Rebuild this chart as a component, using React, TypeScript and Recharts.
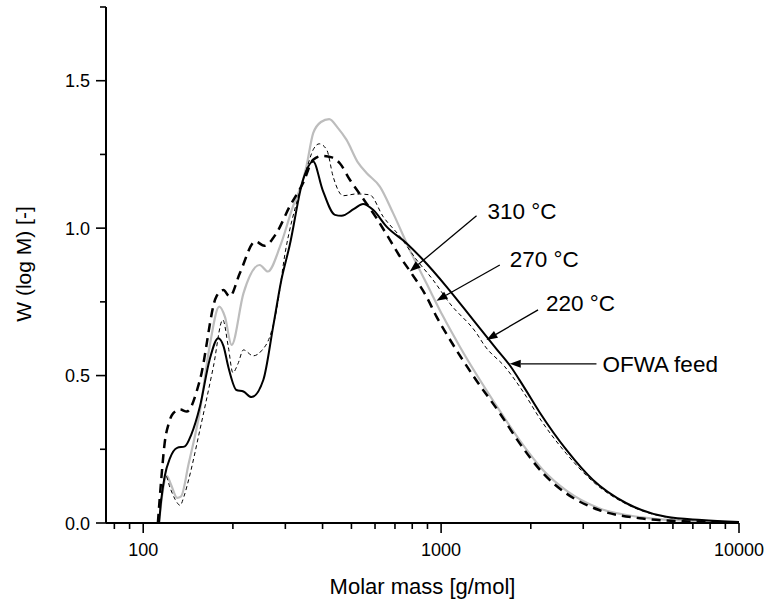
import { Line, LineChart, ReferenceLine, XAxis, YAxis } from "recharts";

// Molar mass distribution: feed vs three process temperatures.
// Log x axis, no legend – every curve is named with an arrow label.

const feedM = [113, 115, 118, 123, 130, 138, 145, 155, 167, 178.5, 186, 193, 205.6, 217, 231, 253, 273, 291, 310, 344, 372, 400, 440, 463, 510, 547, 591, 656, 765, 871, 1042, 1281, 1535, 1700, 1900, 2143, 2635, 3236, 4190, 5700, 7500, 10000];
const feedW = [0, 0.08, 0.157, 0.22, 0.255, 0.26, 0.3, 0.395, 0.553, 0.627, 0.6, 0.53, 0.451, 0.446, 0.427, 0.485, 0.666, 0.825, 0.94, 1.164, 1.226, 1.13, 1.045, 1.042, 1.065, 1.082, 1.062, 1.005, 0.949, 0.892, 0.802, 0.689, 0.59, 0.535, 0.46, 0.375, 0.248, 0.146, 0.067, 0.021, 0.01, 0.003];

const t220M = [113, 116, 119, 123, 128, 133, 137, 142, 155, 172, 185, 193, 200, 208, 217, 234, 250, 266, 280, 300, 330, 353, 372, 390, 413, 434, 469, 520, 576, 638, 727, 828, 940, 1069, 1314, 1403, 1636, 1900, 2143, 2635, 3236, 4190, 5700, 7500, 10000];
const t220W = [0, 0.12, 0.16, 0.12, 0.08, 0.06, 0.09, 0.146, 0.316, 0.53, 0.689, 0.598, 0.51, 0.54, 0.587, 0.567, 0.585, 0.632, 0.72, 0.92, 1.1, 1.198, 1.266, 1.286, 1.266, 1.175, 1.11, 1.116, 1.113, 1.04, 0.972, 0.892, 0.824, 0.745, 0.644, 0.6, 0.53, 0.44, 0.355, 0.235, 0.14, 0.064, 0.02, 0.009, 0.003];

const t270M = [113, 116, 120, 124, 130, 134, 142, 155, 167, 180, 188, 198, 217, 246, 262, 288, 318, 344, 353, 372, 395, 421, 450, 481, 527, 562, 623, 690, 785, 893, 1016, 1156, 1575, 1836, 2197, 2635, 3390, 4645, 6500, 10000];
const t270W = [0, 0.1, 0.16, 0.13, 0.085, 0.09, 0.2, 0.38, 0.598, 0.734, 0.7, 0.604, 0.779, 0.875, 0.853, 0.938, 1.073, 1.164, 1.209, 1.322, 1.36, 1.37, 1.34, 1.3, 1.221, 1.187, 1.141, 1.051, 0.926, 0.813, 0.7, 0.598, 0.38, 0.28, 0.18, 0.11, 0.05, 0.02, 0.008, 0.002];

const t310M = [112, 115, 118, 122, 126, 133, 140, 155, 176, 186, 195, 211, 238, 255, 280, 310, 344, 372, 400, 430, 457, 494, 541, 607, 673, 727, 795, 893, 965, 1056, 1300, 1575, 1836, 2197, 2635, 3390, 4645, 6500, 10000];
const t310W = [0, 0.15, 0.27, 0.34, 0.372, 0.385, 0.378, 0.485, 0.768, 0.79, 0.768, 0.847, 0.955, 0.94, 0.983, 1.073, 1.153, 1.232, 1.245, 1.24, 1.22, 1.164, 1.107, 1.034, 0.96, 0.904, 0.847, 0.768, 0.7, 0.632, 0.49, 0.372, 0.27, 0.169, 0.1, 0.044, 0.016, 0.006, 0.002];

const xTicks = [80, 90, 100, 200, 300, 400, 500, 600, 700, 800, 900, 1000, 2000, 3000, 4000, 5000, 6000, 7000, 8000, 9000, 10000];
const xMajor = [100, 1000, 10000];
const yTicks = [0, 0.25, 0.5, 0.75, 1, 1.25, 1.5, 1.75];
const yMajor = [0, 0.5, 1, 1.5];

// annotation: label, tail (text end) and tip (on the curve), in data units
const notes = [
  { text: "310 °C", from: { x: 1315, y: 1.042 }, to: { x: 785, y: 0.853 }, dx: 11, dy: 3 },
  { text: "270 °C", from: { x: 1574, y: 0.875 }, to: { x: 965, y: 0.754 }, dx: 10, dy: 2 },
  { text: "220 °C", from: { x: 2116, y: 0.723 }, to: { x: 1420, y: 0.621 }, dx: 8, dy: 1 },
  { text: "OFWA feed", from: { x: 3323, y: 0.54 }, to: { x: 1700, y: 0.54 }, dx: 6, dy: 8 },
];

const font = "'Liberation Sans', Arial, sans-serif";

const zip = (m: number[], w: number[]) => m.map((x, i) => ({ m: x, w: w[i] }));

function XTick({ x, y, payload }: any) {
  const major = xMajor.includes(payload.value);
  return (
    <g>
      <line x1={x} y1={y} x2={x} y2={y + (major ? 10 : 6)} stroke="#000" strokeWidth={1.6} />
      {major && (
        <text x={x} y={y + 33} textAnchor="middle" fontSize={18} fontFamily={font} fill="#000">
          {payload.value}
        </text>
      )}
    </g>
  );
}

function YTick({ x, y, payload }: any) {
  const major = yMajor.includes(payload.value);
  return (
    <g>
      <line x1={x} y1={y} x2={x - (major ? 10 : 6)} y2={y} stroke="#000" strokeWidth={1.6} />
      {major && (
        <text x={x - 16} y={y + 6.5} textAnchor="end" fontSize={18} fontFamily={font} fill="#000">
          {payload.value.toFixed(1)}
        </text>
      )}
    </g>
  );
}

function Arrow(p: any) {
  const { x1, y1, x2, y2, text, dx, dy } = p;
  const len = Math.hypot(x2 - x1, y2 - y1) || 1;
  const ux = (x2 - x1) / len;
  const uy = (y2 - y1) / len;
  const hl = 11;
  const hw = 4;
  const bx = x2 - ux * hl;
  const by = y2 - uy * hl;
  const head = `${x2},${y2} ${bx - uy * hw},${by + ux * hw} ${bx + uy * hw},${by - ux * hw}`;
  return (
    <g>
      <line x1={x1} y1={y1} x2={bx} y2={by} stroke="#000" strokeWidth={1.3} />
      <polygon points={head} fill="#000" />
      <text x={x1 + dx} y={y1 + dy} fontSize={22.5} fontFamily={font} fill="#000">
        {text}
      </text>
    </g>
  );
}

export default function App() {
  return (
    <div style={{ position: "absolute", left: 0, top: 0, width: 768, height: 600, background: "#fff" }}>
      <LineChart width={768} height={600} margin={{ top: 7, right: 29, bottom: 0, left: 0 }}>
        <XAxis
          dataKey="m"
          type="number"
          scale="log"
          domain={[75, 10000]}
          allowDataOverflow
          ticks={xTicks}
          interval={0}
          tick={<XTick />}
          tickSize={0}
          tickMargin={0}
          tickLine={false}
          height={77}
          axisLine={{ stroke: "#000", strokeWidth: 2 }}
        />
        <YAxis
          type="number"
          domain={[0, 1.75]}
          ticks={yTicks}
          interval={0}
          tick={<YTick />}
          tickSize={0}
          tickMargin={0}
          tickLine={false}
          width={106}
          axisLine={{ stroke: "#000", strokeWidth: 2 }}
        />
        <Line data={zip(t270M, t270W)} dataKey="w" type="monotone" stroke="#bdbdbd" strokeWidth={2.2} dot={false} isAnimationActive={false} />
        <Line data={zip(t220M, t220W)} dataKey="w" type="monotone" stroke="#000" strokeWidth={1} strokeDasharray="4 3" dot={false} isAnimationActive={false} />
        <Line data={zip(t310M, t310W)} dataKey="w" type="monotone" stroke="#000" strokeWidth={2.5} strokeDasharray="9 6" dot={false} isAnimationActive={false} />
        <Line data={zip(feedM, feedW)} dataKey="w" type="monotone" stroke="#000" strokeWidth={2} dot={false} isAnimationActive={false} />
        {notes.map((n) => (
          <ReferenceLine
            key={n.text}
            segment={[n.from, n.to]}
            ifOverflow="visible"
            shape={(p: any) => <Arrow {...p} text={n.text} dx={n.dx} dy={n.dy} />}
          />
        ))}
      </LineChart>
      <svg width={768} height={600} style={{ position: "absolute", left: 0, top: 0, pointerEvents: "none" }}>
        <text x={422.5} y={594} textAnchor="middle" fontSize={22} fontFamily={font} fill="#000">
          Molar mass [g/mol]
        </text>
        <text
          x={0}
          y={0}
          transform="translate(31 264) rotate(-90)"
          textAnchor="middle"
          fontSize={21}
          fontFamily={font}
          fill="#000"
        >
          W (log M) [-]
        </text>
      </svg>
    </div>
  );
}
